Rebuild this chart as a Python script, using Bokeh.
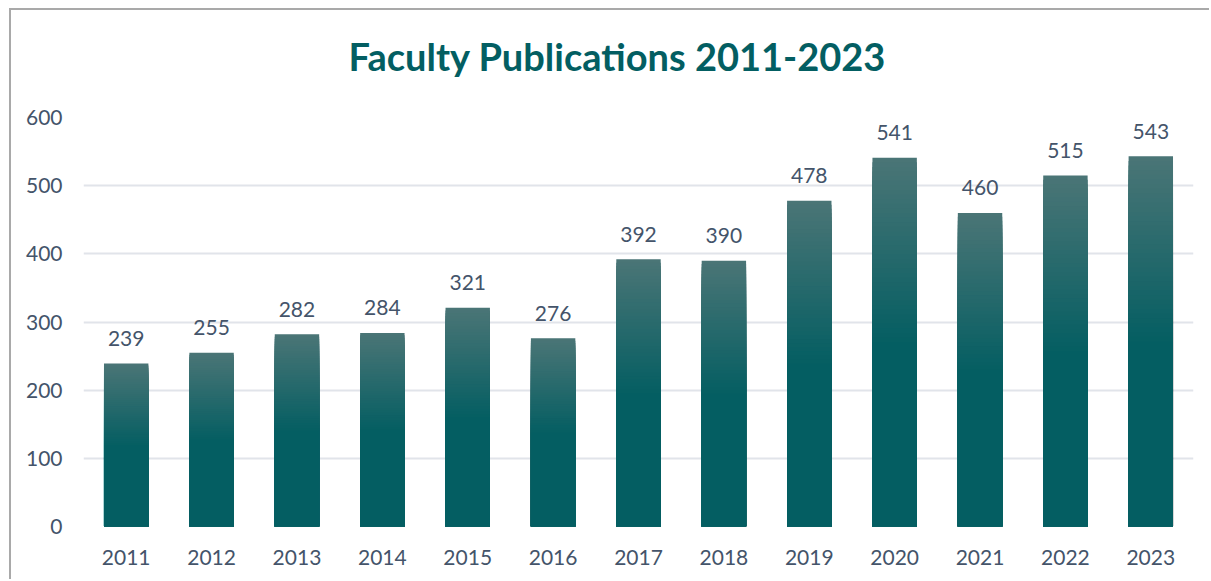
from bokeh.plotting import figure
from bokeh.models import ColumnDataSource, FixedTicker, Range1d, FactorRange, Title
from bokeh.core.properties import value
from bokeh.embed import file_html
from bokeh.resources import INLINE

years = ["2011", "2012", "2013", "2014", "2015", "2016", "2017", "2018", "2019", "2020", "2021", "2022", "2023"]
publications = [239, 255, 282, 284, 321, 276, 392, 390, 478, 541, 460, 515, 543]
y_ticks = [0, 100, 200, 300, 400, 500, 600]
title_text = "Faculty Publications 2011-2023"

LIGHT = (74, 117, 118)
DARK = (4, 94, 98)
LABEL_COLOR = "#44546A"
FONT = "Lato"

p = figure(x_range=FactorRange(*years), y_range=Range1d(0, 600),
           width=1200, height=571, output_backend="svg", toolbar_location=None,
           min_border_left=72, min_border_right=18, min_border_top=107, min_border_bottom=55)
p.styles = {"margin": "8px 0px 0px 9px",
            "border-top": "2px solid #A9A9A9", "border-left": "2px solid #A9A9A9"}
p.outline_line_color = None
p.background_fill_color = "white"
p.border_fill_color = "white"

# gradient bars: layered rectangles, each from 0 up to a fraction of the bar value
N = 40
stop = 0.5
xs, tops, cols = [], [], []
for i in range(N + 1):
    f = stop * i / N
    t = min(i / N, 1.0)
    c = tuple(int(round(LIGHT[k] + (DARK[k] - LIGHT[k]) * t)) for k in range(3))
    col = "#%02x%02x%02x" % c
    for yr, v in zip(years, publications):
        xs.append(yr)
        tops.append(v * (1 - f))
        cols.append(col)
src = ColumnDataSource(dict(x=xs, top=tops, color=cols))
p.vbar(x="x", top="top", bottom=0, width=0.52, source=src, fill_color="color", line_color=None)

lab = ColumnDataSource(dict(x=years, y=publications, t=[str(v) for v in publications]))
p.text(x="x", y="y", text="t", source=lab, text_align="center", text_baseline="alphabetic",
       y_offset=-25, text_font=value(FONT), text_font_size="21px", text_color=LABEL_COLOR)

p.yaxis.ticker = FixedTicker(ticks=y_ticks)
for ax in (p.xaxis, p.yaxis):
    ax.axis_line_color = None
    ax.major_tick_line_color = None
    ax.minor_tick_line_color = None
    ax.major_tick_out = 0
    ax.major_tick_in = 0
    ax.major_label_text_font = FONT
    ax.major_label_text_font_size = "21px"
    ax.major_label_text_color = LABEL_COLOR
p.yaxis.major_label_standoff = 21
p.xaxis.major_label_standoff = 23
p.xgrid.grid_line_color = None
p.ygrid.grid_line_color = "#E1E4EA"
p.ygrid.grid_line_width = 2

# blank spacer between the frame and the title
p.add_layout(Title(text=" ", standoff=26, text_font_size="10px"), "above")
p.add_layout(Title(text=title_text, align="left", offset=265, standoff=0,
                   text_font=FONT, text_font_style="bold", text_font_size="38px",
                   text_color="#035E62"), "above")

open("out.html", "w").write(file_html(p, INLINE))
